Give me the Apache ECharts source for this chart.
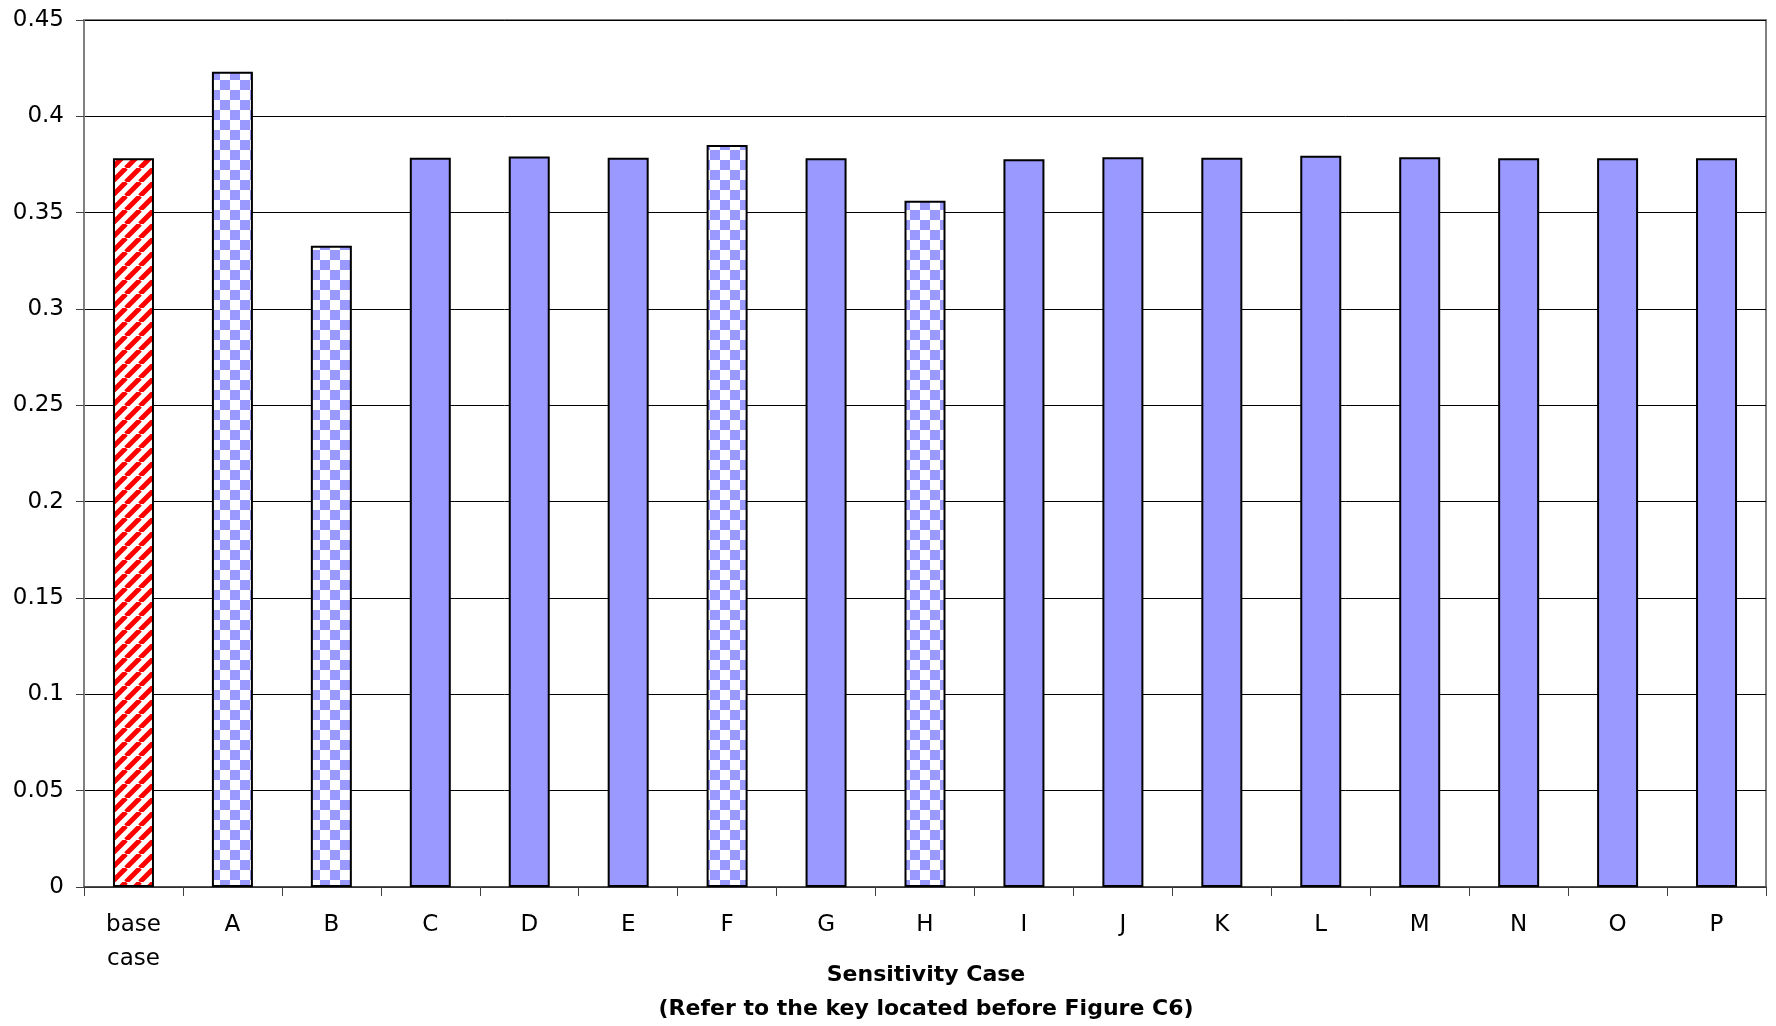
<!DOCTYPE html>
<html>
<head>
<meta charset="utf-8">
<style>
  html, body { margin: 0; padding: 0; background: #fff; }
  #chart { width: 1776px; height: 1026px; }
</style>
<script src="https://cdn.jsdelivr.net/npm/echarts@6/dist/echarts.min.js"></script>
</head>
<body>
<div id="chart"></div>
<script>
// data
const categories = ['base\ncase', 'A', 'B', 'C', 'D', 'E', 'F', 'G', 'H', 'I', 'J', 'K', 'L', 'M', 'N', 'O', 'P'];
const values = [0.3782, 0.4232, 0.3328, 0.3785, 0.3792, 0.3785, 0.3851, 0.3782, 0.3562, 0.3777, 0.3787, 0.3785, 0.3796, 0.3787, 0.3782, 0.3782, 0.3782];
const fills = ['stripe', 'check', 'check', 'solid', 'solid', 'solid', 'check', 'solid', 'check', 'solid', 'solid', 'solid', 'solid', 'solid', 'solid', 'solid', 'solid'];
const yTicks = [0, 0.05, 0.1, 0.15, 0.2, 0.25, 0.3, 0.35, 0.4, 0.45];

const BLUE = '#9999ff';
const FONT = 'DejaVu Sans, Verdana, sans-serif';

function stripeCanvas() {
    const s = 14;
    const c = document.createElement('canvas');
    c.width = s; c.height = s;
    const ctx = c.getContext('2d');
    ctx.fillStyle = '#fff';
    ctx.fillRect(0, 0, s, s);
    ctx.strokeStyle = '#ff0000';
    ctx.lineWidth = 5;
    ctx.beginPath();
    // "/" lines, drawn thrice so the tile wraps cleanly
    for (let k = -1; k <= 1; k++) {
        ctx.moveTo(k * s, s);
        ctx.lineTo(k * s + s, 0);
    }
    ctx.stroke();
    return c;
}

function checkCanvas() {
    const q = 10;
    const c = document.createElement('canvas');
    c.width = q * 2; c.height = q * 2;
    const ctx = c.getContext('2d');
    ctx.fillStyle = '#fff';
    ctx.fillRect(0, 0, q * 2, q * 2);
    ctx.fillStyle = BLUE;
    ctx.fillRect(0, 0, q, q);
    ctx.fillRect(q, q, q, q);
    return c;
}

const stripe = { image: stripeCanvas(), repeat: 'repeat' };
const check = { image: checkCanvas(), repeat: 'repeat' };

function fillFor(kind) {
    if (kind === 'stripe') return stripe;
    if (kind === 'check') return check;
    return BLUE;
}

const seriesData = values.map(function(v, i) {
    return { value: v, itemStyle: { color: fillFor(fills[i]) } };
});

const chart = echarts.init(document.getElementById('chart'), null, { renderer: 'canvas' });

chart.setOption({
    animation: false,
    backgroundColor: '#fff',
    textStyle: { fontFamily: FONT },
    title: {
        text: 'Sensitivity Case\n(Refer to the key located before Figure C6)',
        left: 921,
        top: 953,
        textAlign: 'center',
        textStyle: {
            fontFamily: FONT,
            fontSize: 22,
            fontWeight: 'bold',
            lineHeight: 34,
            color: '#000'
        }
    },
    grid: {
        left: 84, right: 10, top: 20, bottom: 139,
        show: true,
        borderColor: '#808080',
        borderWidth: 2,
        backgroundColor: '#fff'
    },
    xAxis: {
        type: 'category',
        data: categories,
        axisLine: { lineStyle: { color: '#404040', width: 1.5 } },
        axisTick: { show: true, length: 9, lineStyle: { color: '#404040' } },
        axisLabel: {
            color: '#000',
            fontFamily: FONT,
            fontSize: 23,
            lineHeight: 34,
            margin: 21,
            interval: 0
        }
    },
    yAxis: {
        type: 'value',
        min: 0,
        max: 0.45,
        interval: 0.05,
        axisLine: { show: true, lineStyle: { color: '#808080', width: 2 } },
        axisTick: { show: true, length: 8, lineStyle: { color: '#404040' } },
        axisLabel: {
            color: '#000',
            fontFamily: FONT,
            fontSize: 23,
            margin: 20,
            formatter: function(v) {
                const t = yTicks.find(function(y) { return Math.abs(y - v) < 1e-9; });
                return t === undefined ? '' : String(t);
            }
        },
        splitLine: { show: true, lineStyle: { color: '#000', width: 1 } }
    },
    series: [{
        type: 'bar',
        data: seriesData,
        barWidth: 41,
        itemStyle: { borderColor: '#000', borderWidth: 2 }
    }]
});
</script>
</body>
</html>
